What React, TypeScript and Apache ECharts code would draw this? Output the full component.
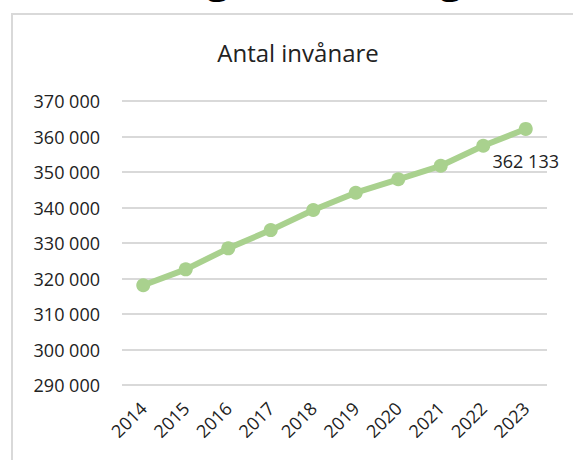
import React, { useEffect, useRef } from "react";
import * as echarts from "echarts";

const years = ["2014", "2015", "2016", "2017", "2018", "2019", "2020", "2021", "2022", "2023"];
const population = [318107, 322574, 328494, 333633, 339313, 344166, 347949, 351749, 357377, 362133];
const titleText = "Antal invånare";

const fmt = (v: number) => String(v).replace(/\B(?=(\d{3})+(?!\d))/g, " ");
const FONT = "'Open Sans', sans-serif";

export default function App() {
  const ref = useRef<HTMLDivElement>(null);
  useEffect(() => {
    document.body.style.margin = "0";
    const chart = echarts.init(ref.current!, null, { renderer: "svg" });
    chart.setOption({
      animation: false,
      backgroundColor: "#ffffff",
      title: {
        text: titleText,
        left: 293,
        textAlign: "center",
        top: 35,
        textStyle: { fontFamily: FONT, fontSize: 24, fontWeight: "normal", color: "#222" },
      },
      graphic: [
        { type: "rect", shape: { x: 12, y: 14, width: 700, height: 600 }, style: { fill: "none", stroke: "#d9d9d9", lineWidth: 2 }, silent: true },
        { type: "text", x: 218, y: -23, style: { text: "g", fontFamily: FONT, fontSize: 40, fontWeight: "bold", fill: "#000", align: "center", verticalAlign: "middle" } },
        { type: "text", x: 451, y: -23, style: { text: "g", fontFamily: FONT, fontSize: 40, fontWeight: "bold", fill: "#000", align: "center", verticalAlign: "middle" } },
      ],
      grid: { left: 122, right: 26, top: 101, bottom: 75, containLabel: false },
      xAxis: {
        type: "category",
        data: years,
        boundaryGap: true,
        axisLine: { show: false },
        axisTick: { show: false },
        axisLabel: { rotate: 45, margin: 20, fontFamily: FONT, fontSize: 18, color: "#222" },
      },
      yAxis: {
        type: "value",
        min: 290000,
        max: 370000,
        interval: 10000,
        axisLine: { show: false },
        axisTick: { show: false },
        splitLine: { lineStyle: { color: "#d9d9d9", width: 2 } },
        axisLabel: { margin: 22, fontFamily: FONT, fontSize: 18, color: "#222", formatter: (v: number) => fmt(v) },
      },
      series: [
        {
          type: "line",
          data: population.map((v, i) =>
            i === population.length - 1
              ? { value: v, label: { show: true, position: "bottom", distance: 16, formatter: (p: any) => fmt(p.value), fontFamily: FONT, fontSize: 18, color: "#222" } }
              : v
          ),
          symbol: "circle",
          symbolSize: 14,
          lineStyle: { color: "#a9d18e", width: 6 },
          itemStyle: { color: "#a9d18e" },
        },
      ],
    });
    return () => chart.dispose();
  }, []);
  return <div ref={ref} style={{ position: "fixed", left: 0, top: 0, width: 573, height: 460 }} />;
}
